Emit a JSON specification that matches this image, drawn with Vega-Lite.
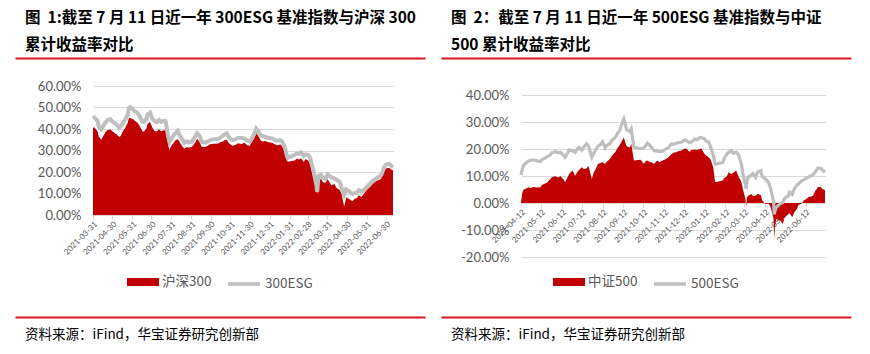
{
  "$schema": "https://vega.github.io/schema/vega-lite/v6.json",
  "background": "white",
  "padding": {"left": 12, "top": 10, "right": 0, "bottom": 0},
  "spacing": 10,
  "resolve": {"scale": {"fill": "independent", "stroke": "independent"}, "legend": {"fill": "independent", "stroke": "independent"}},
  "config": {
    "view": {"stroke": null},
    "font": "Noto Sans CJK SC",
    "legend": {"layout": {"top": {"anchor": "middle", "direction": "horizontal", "margin": 14}}}
  },
  "hconcat": [
    {
      "concat": [
        {
          "width": 410, "height": 13,
          "title": {"text": ["图\u00a0\u00a01:截至 7 月 11 日近一年 300ESG 基准指数与沪深 300", "累计收益率对比"], "anchor": "start", "frame": "group", "dx": 10, "offset": 5, "fontSize": 15.5, "fontWeight": "bold", "lineHeight": 27, "font": "Noto Sans CJK SC", "color": "#000000"},
          "data": {"values": [{"v": 0}]},
          "mark": {"type": "point", "opacity": 0},
          "encoding": {"x": {"field": "v", "type": "quantitative", "scale": {"domain": [0, 1]}, "axis": {"orient": "top", "domainColor": "#d7191f", "domainWidth": 2, "labels": false, "ticks": false, "grid": false, "title": null}}}
        },
        {
          "width": 410, "height": 129,
          "data": {"values": [
            {"d": "2021-03-31", "hs": 40.5, "esg": 44.9},
            {"d": "2021-04-02", "hs": 40.8, "esg": 45.4},
            {"d": "2021-04-07", "hs": 39.0, "esg": 43.8},
            {"d": "2021-04-09", "hs": 36.5, "esg": 41.0},
            {"d": "2021-04-13", "hs": 35.0, "esg": 39.8},
            {"d": "2021-04-16", "hs": 36.8, "esg": 41.5},
            {"d": "2021-04-20", "hs": 38.8, "esg": 43.2},
            {"d": "2021-04-23", "hs": 39.5, "esg": 44.2},
            {"d": "2021-04-27", "hs": 39.8, "esg": 44.6},
            {"d": "2021-04-30", "hs": 39.0, "esg": 43.5},
            {"d": "2021-05-07", "hs": 37.5, "esg": 42.0},
            {"d": "2021-05-11", "hs": 36.3, "esg": 40.6},
            {"d": "2021-05-13", "hs": 36.8, "esg": 41.2},
            {"d": "2021-05-17", "hs": 39.2, "esg": 43.0},
            {"d": "2021-05-20", "hs": 40.5, "esg": 44.3},
            {"d": "2021-05-24", "hs": 42.8, "esg": 46.5},
            {"d": "2021-05-26", "hs": 45.2, "esg": 49.8},
            {"d": "2021-05-28", "hs": 45.0, "esg": 50.2},
            {"d": "2021-06-01", "hs": 44.6, "esg": 49.2},
            {"d": "2021-06-04", "hs": 43.8, "esg": 48.3},
            {"d": "2021-06-08", "hs": 43.0, "esg": 47.6},
            {"d": "2021-06-11", "hs": 41.8, "esg": 46.3},
            {"d": "2021-06-16", "hs": 39.0, "esg": 43.4},
            {"d": "2021-06-18", "hs": 38.7, "esg": 43.1},
            {"d": "2021-06-22", "hs": 40.2, "esg": 44.6},
            {"d": "2021-06-24", "hs": 42.5, "esg": 46.8},
            {"d": "2021-06-28", "hs": 43.3, "esg": 47.6},
            {"d": "2021-07-01", "hs": 40.8, "esg": 45.0},
            {"d": "2021-07-05", "hs": 39.0, "esg": 43.6},
            {"d": "2021-07-08", "hs": 38.8, "esg": 43.1},
            {"d": "2021-07-12", "hs": 39.9, "esg": 44.2},
            {"d": "2021-07-15", "hs": 39.0, "esg": 43.3},
            {"d": "2021-07-19", "hs": 39.4, "esg": 43.8},
            {"d": "2021-07-22", "hs": 39.5, "esg": 43.6},
            {"d": "2021-07-26", "hs": 33.0, "esg": 36.5},
            {"d": "2021-07-28", "hs": 30.2, "esg": 34.0},
            {"d": "2021-07-30", "hs": 31.8, "esg": 35.2},
            {"d": "2021-08-03", "hs": 33.4, "esg": 36.8},
            {"d": "2021-08-06", "hs": 34.6, "esg": 38.0},
            {"d": "2021-08-10", "hs": 35.4, "esg": 39.2},
            {"d": "2021-08-13", "hs": 33.8, "esg": 37.0},
            {"d": "2021-08-17", "hs": 32.0, "esg": 35.2},
            {"d": "2021-08-20", "hs": 30.8, "esg": 33.6},
            {"d": "2021-08-24", "hs": 31.6, "esg": 34.2},
            {"d": "2021-08-27", "hs": 31.3, "esg": 33.8},
            {"d": "2021-09-01", "hs": 31.8, "esg": 34.2},
            {"d": "2021-09-06", "hs": 33.6, "esg": 36.4},
            {"d": "2021-09-09", "hs": 35.5, "esg": 38.0},
            {"d": "2021-09-13", "hs": 34.0, "esg": 36.8},
            {"d": "2021-09-16", "hs": 31.8, "esg": 34.0},
            {"d": "2021-09-22", "hs": 31.6, "esg": 33.6},
            {"d": "2021-09-27", "hs": 32.4, "esg": 34.4},
            {"d": "2021-09-30", "hs": 33.0, "esg": 35.0},
            {"d": "2021-10-12", "hs": 33.2, "esg": 35.4},
            {"d": "2021-10-15", "hs": 33.8, "esg": 36.0},
            {"d": "2021-10-19", "hs": 34.2, "esg": 36.8},
            {"d": "2021-10-22", "hs": 34.8, "esg": 37.5},
            {"d": "2021-10-25", "hs": 35.0, "esg": 38.0},
            {"d": "2021-10-28", "hs": 33.6, "esg": 36.4},
            {"d": "2021-11-01", "hs": 32.6, "esg": 35.2},
            {"d": "2021-11-04", "hs": 32.2, "esg": 34.8},
            {"d": "2021-11-09", "hs": 32.8, "esg": 35.4},
            {"d": "2021-11-12", "hs": 33.4, "esg": 35.8},
            {"d": "2021-11-17", "hs": 33.0, "esg": 35.8},
            {"d": "2021-11-22", "hs": 33.6, "esg": 35.6},
            {"d": "2021-11-26", "hs": 32.4, "esg": 34.6},
            {"d": "2021-11-30", "hs": 32.2, "esg": 34.2},
            {"d": "2021-12-03", "hs": 33.8, "esg": 35.6},
            {"d": "2021-12-07", "hs": 35.6, "esg": 37.8},
            {"d": "2021-12-10", "hs": 38.2, "esg": 40.2},
            {"d": "2021-12-14", "hs": 36.4, "esg": 38.6},
            {"d": "2021-12-17", "hs": 34.6, "esg": 37.0},
            {"d": "2021-12-21", "hs": 34.2, "esg": 36.6},
            {"d": "2021-12-24", "hs": 34.4, "esg": 36.4},
            {"d": "2021-12-29", "hs": 33.8, "esg": 35.8},
            {"d": "2022-01-04", "hs": 33.6, "esg": 35.6},
            {"d": "2022-01-07", "hs": 33.0, "esg": 35.0},
            {"d": "2022-01-12", "hs": 32.4, "esg": 34.5},
            {"d": "2022-01-17", "hs": 32.8, "esg": 34.8},
            {"d": "2022-01-20", "hs": 31.6, "esg": 34.0},
            {"d": "2022-01-24", "hs": 29.4, "esg": 31.0},
            {"d": "2022-01-27", "hs": 25.6, "esg": 27.4},
            {"d": "2022-01-28", "hs": 24.8, "esg": 26.6},
            {"d": "2022-02-08", "hs": 25.4, "esg": 28.0},
            {"d": "2022-02-11", "hs": 26.2, "esg": 28.6},
            {"d": "2022-02-15", "hs": 25.8, "esg": 28.4},
            {"d": "2022-02-18", "hs": 26.4, "esg": 29.2},
            {"d": "2022-02-22", "hs": 24.6, "esg": 27.4},
            {"d": "2022-02-25", "hs": 26.0, "esg": 28.2},
            {"d": "2022-03-01", "hs": 25.4, "esg": 28.0},
            {"d": "2022-03-04", "hs": 23.6, "esg": 26.6},
            {"d": "2022-03-08", "hs": 18.6, "esg": 22.0},
            {"d": "2022-03-10", "hs": 16.0, "esg": 19.4},
            {"d": "2022-03-14", "hs": 11.0, "esg": 13.6},
            {"d": "2022-03-15", "hs": 9.6, "esg": 10.8},
            {"d": "2022-03-17", "hs": 16.4, "esg": 18.2},
            {"d": "2022-03-21", "hs": 16.8, "esg": 18.6},
            {"d": "2022-03-24", "hs": 15.2, "esg": 17.2},
            {"d": "2022-03-28", "hs": 15.0, "esg": 16.8},
            {"d": "2022-03-31", "hs": 16.8, "esg": 18.8},
            {"d": "2022-04-06", "hs": 13.8, "esg": 17.6},
            {"d": "2022-04-11", "hs": 14.4, "esg": 17.0},
            {"d": "2022-04-14", "hs": 12.6, "esg": 16.4},
            {"d": "2022-04-19", "hs": 11.8, "esg": 15.4},
            {"d": "2022-04-22", "hs": 9.8, "esg": 12.6},
            {"d": "2022-04-25", "hs": 5.4, "esg": 10.2},
            {"d": "2022-04-26", "hs": 3.8, "esg": 9.4},
            {"d": "2022-04-28", "hs": 6.6, "esg": 10.6},
            {"d": "2022-04-29", "hs": 8.3, "esg": 12.0},
            {"d": "2022-05-05", "hs": 7.2, "esg": 10.8},
            {"d": "2022-05-09", "hs": 6.4, "esg": 9.8},
            {"d": "2022-05-12", "hs": 7.4, "esg": 10.2},
            {"d": "2022-05-16", "hs": 8.0, "esg": 10.6},
            {"d": "2022-05-19", "hs": 9.2, "esg": 11.6},
            {"d": "2022-05-23", "hs": 8.4, "esg": 10.8},
            {"d": "2022-05-26", "hs": 9.6, "esg": 11.4},
            {"d": "2022-05-31", "hs": 11.6, "esg": 13.0},
            {"d": "2022-06-06", "hs": 13.2, "esg": 14.8},
            {"d": "2022-06-10", "hs": 14.6, "esg": 16.0},
            {"d": "2022-06-15", "hs": 15.8, "esg": 17.0},
            {"d": "2022-06-20", "hs": 16.4, "esg": 18.0},
            {"d": "2022-06-23", "hs": 17.2, "esg": 18.8},
            {"d": "2022-06-27", "hs": 20.2, "esg": 22.0},
            {"d": "2022-06-30", "hs": 21.6, "esg": 23.4},
            {"d": "2022-07-05", "hs": 22.0, "esg": 23.8},
            {"d": "2022-07-08", "hs": 21.2, "esg": 23.0},
            {"d": "2022-07-11", "hs": 20.8, "esg": 22.3}
          ]},
          "encoding": {
            "x": {
              "field": "d", "type": "temporal",
              "scale": {"type": "utc", "nice": false, "range": [78, 378], "domain": [{"year": 2021, "month": 3, "date": 31, "utc": true}, {"year": 2022, "month": 7, "date": 11, "utc": true}]},
              "axis": {
                "values": [
                  {"year": 2021, "month": 3, "date": 31, "utc": true},
                  {"year": 2021, "month": 4, "date": 30, "utc": true},
                  {"year": 2021, "month": 5, "date": 31, "utc": true},
                  {"year": 2021, "month": 6, "date": 30, "utc": true},
                  {"year": 2021, "month": 7, "date": 31, "utc": true},
                  {"year": 2021, "month": 8, "date": 31, "utc": true},
                  {"year": 2021, "month": 9, "date": 30, "utc": true},
                  {"year": 2021, "month": 10, "date": 31, "utc": true},
                  {"year": 2021, "month": 11, "date": 30, "utc": true},
                  {"year": 2021, "month": 12, "date": 31, "utc": true},
                  {"year": 2022, "month": 1, "date": 31, "utc": true},
                  {"year": 2022, "month": 2, "date": 28, "utc": true},
                  {"year": 2022, "month": 3, "date": 31, "utc": true},
                  {"year": 2022, "month": 4, "date": 30, "utc": true},
                  {"year": 2022, "month": 5, "date": 31, "utc": true},
                  {"year": 2022, "month": 6, "date": 30, "utc": true}
                ],
                "labelExpr": "utcFormat(datum.value, '%Y-%m-%d')",
                "labelAngle": -45, "labelFontSize": 8, "labelFont": "Lato", "labelColor": "#595959",
                "labelOverlap": false, "labelFlush": false, "labelPadding": 1,
                "domainColor": "#d9d9d9", "tickColor": "#d9d9d9", "tickSize": 4, "grid": false, "title": null
              }
            }
          },
          "layer": [
            {
              "mark": {"type": "area", "color": "#c00000"},
              "encoding": {"y": {"field": "hs", "type": "quantitative", "scale": {"domain": [0, 60], "nice": false},
                "axis": {"values": [0, 10, 20, 30, 40, 50, 60], "tickCount": 7, "labelExpr": "format(datum.value, '.2f') + '%'", "labelOverlap": false, "offset": -78, "domain": false, "ticks": false, "gridColor": "#d9d9d9", "labelFontSize": 13, "labelFont": "Lato", "labelColor": "#595959", "labelPadding": 12, "title": null}}}
            },
            {
              "mark": {"type": "line", "color": "#bfbfbf", "strokeWidth": 4},
              "encoding": {"y": {"field": "esg", "type": "quantitative", "scale": {"domain": [0, 60], "nice": false},
                "axis": {"values": [0, 10, 20, 30, 40, 50, 60], "tickCount": 7, "labelExpr": "format(datum.value, '.2f') + '%'", "labelOverlap": false, "offset": -78, "domain": false, "ticks": false, "gridColor": "#d9d9d9", "labelFontSize": 13, "labelFont": "Lato", "labelColor": "#595959", "labelPadding": 12, "title": null}}}
            }
          ]
        },
        {
          "width": 410, "height": 1,
          "title": {"text": "资料来源：iFind，华宝证券研究创新部", "orient": "bottom", "anchor": "start", "frame": "group", "dx": 10, "offset": 8, "fontSize": 13.5, "fontWeight": "normal", "font": "Noto Sans CJK SC", "color": "#000000"},
          "data": {"values": [{"s": "沪深300", "v": 0}, {"s": "300ESG", "v": 1}]},
          "encoding": {"x": {"field": "v", "type": "quantitative", "scale": {"domain": [0, 1]}, "axis": {"orient": "top", "domainColor": "#d7191f", "domainWidth": 2, "labels": false, "ticks": false, "grid": false, "title": null}}},
          "layer": [
            {
              "transform": [{"filter": "datum.v == 0"}],
              "mark": {"type": "point", "opacity": 0, "filled": true},
              "encoding": {"fill": {"field": "s", "type": "nominal", "scale": {"range": ["#c00000"]},
                "legend": {"orient": "top", "title": null, "symbolType": "M-1,-0.25H1V0.25H-1Z", "symbolSize": 1024, "symbolStrokeWidth": 0, "symbolOpacity": 1, "labelFontSize": 13.5, "labelFont": "Noto Sans CJK SC", "labelColor": "#595959", "labelOffset": 3, "offset": 26, "padding": 0}}}
            },
            {
              "transform": [{"filter": "datum.v == 1"}],
              "mark": {"type": "point", "opacity": 0},
              "encoding": {"stroke": {"field": "s", "type": "nominal", "scale": {"range": ["#bfbfbf"]},
                "legend": {"orient": "top", "title": null, "symbolType": "M-1,0H1", "symbolSize": 1024, "symbolStrokeWidth": 3.5, "symbolOpacity": 1, "symbolFillColor": "transparent", "labelFontSize": 13.5, "labelFont": "Noto Sans CJK SC", "labelColor": "#595959", "labelOffset": 3, "offset": 26, "padding": 0}}}
            }
          ]
        }
      ],
      "columns": 1,
      "align": "none",
      "spacing": 9,
      "resolve": {"scale": {"fill": "independent", "stroke": "independent"}, "legend": {"fill": "independent", "stroke": "independent"}}
    },
    {
      "concat": [
        {
          "width": 410, "height": 29,
          "title": {"text": ["图\u00a0\u00a02：截至 7 月 11 日近一年 500ESG 基准指数与中证", "500 累计收益率对比"], "anchor": "start", "frame": "group", "dx": 10, "offset": 5, "fontSize": 15.5, "fontWeight": "bold", "lineHeight": 27, "font": "Noto Sans CJK SC", "color": "#000000"},
          "data": {"values": [{"v": 0}]},
          "mark": {"type": "point", "opacity": 0},
          "encoding": {"x": {"field": "v", "type": "quantitative", "scale": {"domain": [0, 1]}, "axis": {"orient": "top", "domainColor": "#d7191f", "domainWidth": 2, "labels": false, "ticks": false, "grid": false, "title": null}}}
        },
        {
          "width": 410, "height": 162,
          "data": {"values": [
            {"d": "2021-04-12", "zz": 0.3, "esg": 10.4},
            {"d": "2021-04-14", "zz": 3.8, "esg": 12.6},
            {"d": "2021-04-16", "zz": 5.0, "esg": 14.0},
            {"d": "2021-04-20", "zz": 5.4, "esg": 14.9},
            {"d": "2021-04-23", "zz": 5.8, "esg": 15.5},
            {"d": "2021-04-27", "zz": 5.6, "esg": 15.8},
            {"d": "2021-04-30", "zz": 5.9, "esg": 16.0},
            {"d": "2021-05-07", "zz": 5.7, "esg": 15.6},
            {"d": "2021-05-11", "zz": 5.8, "esg": 15.3},
            {"d": "2021-05-14", "zz": 6.8, "esg": 16.2},
            {"d": "2021-05-18", "zz": 7.2, "esg": 16.6},
            {"d": "2021-05-21", "zz": 7.6, "esg": 17.2},
            {"d": "2021-05-25", "zz": 8.6, "esg": 17.6},
            {"d": "2021-05-28", "zz": 9.5, "esg": 18.6},
            {"d": "2021-06-02", "zz": 9.9, "esg": 19.0},
            {"d": "2021-06-07", "zz": 9.4, "esg": 18.6},
            {"d": "2021-06-10", "zz": 10.0, "esg": 18.8},
            {"d": "2021-06-15", "zz": 8.6, "esg": 17.6},
            {"d": "2021-06-17", "zz": 7.8, "esg": 16.9},
            {"d": "2021-06-21", "zz": 9.6, "esg": 18.6},
            {"d": "2021-06-23", "zz": 10.7, "esg": 19.6},
            {"d": "2021-06-28", "zz": 12.0, "esg": 19.4},
            {"d": "2021-07-02", "zz": 10.1, "esg": 18.8},
            {"d": "2021-07-06", "zz": 11.8, "esg": 20.2},
            {"d": "2021-07-08", "zz": 12.2, "esg": 20.6},
            {"d": "2021-07-12", "zz": 13.2, "esg": 19.6},
            {"d": "2021-07-15", "zz": 12.6, "esg": 20.8},
            {"d": "2021-07-19", "zz": 12.8, "esg": 21.9},
            {"d": "2021-07-22", "zz": 13.8, "esg": 21.2},
            {"d": "2021-07-27", "zz": 8.9, "esg": 16.9},
            {"d": "2021-07-30", "zz": 11.4, "esg": 18.4},
            {"d": "2021-08-02", "zz": 12.6, "esg": 19.8},
            {"d": "2021-08-05", "zz": 14.4, "esg": 21.0},
            {"d": "2021-08-09", "zz": 14.8, "esg": 21.6},
            {"d": "2021-08-12", "zz": 15.1, "esg": 22.7},
            {"d": "2021-08-16", "zz": 14.4, "esg": 20.4},
            {"d": "2021-08-18", "zz": 15.2, "esg": 21.2},
            {"d": "2021-08-23", "zz": 16.3, "esg": 22.0},
            {"d": "2021-08-26", "zz": 17.5, "esg": 23.2},
            {"d": "2021-08-31", "zz": 18.8, "esg": 24.2},
            {"d": "2021-09-03", "zz": 20.2, "esg": 25.6},
            {"d": "2021-09-07", "zz": 21.6, "esg": 27.0},
            {"d": "2021-09-09", "zz": 22.5, "esg": 28.6},
            {"d": "2021-09-13", "zz": 24.3, "esg": 31.1},
            {"d": "2021-09-15", "zz": 22.5, "esg": 29.3},
            {"d": "2021-09-17", "zz": 21.0, "esg": 27.2},
            {"d": "2021-09-22", "zz": 20.6, "esg": 26.4},
            {"d": "2021-09-24", "zz": 21.9, "esg": 27.4},
            {"d": "2021-09-28", "zz": 15.7, "esg": 20.6},
            {"d": "2021-10-08", "zz": 16.0, "esg": 20.2},
            {"d": "2021-10-13", "zz": 14.4, "esg": 20.4},
            {"d": "2021-10-15", "zz": 15.4, "esg": 21.0},
            {"d": "2021-10-18", "zz": 15.7, "esg": 22.2},
            {"d": "2021-10-21", "zz": 15.3, "esg": 21.6},
            {"d": "2021-10-25", "zz": 15.0, "esg": 20.4},
            {"d": "2021-10-28", "zz": 14.4, "esg": 19.4},
            {"d": "2021-11-02", "zz": 15.7, "esg": 19.2},
            {"d": "2021-11-05", "zz": 15.1, "esg": 19.0},
            {"d": "2021-11-10", "zz": 15.7, "esg": 19.2},
            {"d": "2021-11-15", "zz": 16.3, "esg": 20.0},
            {"d": "2021-11-19", "zz": 17.0, "esg": 20.6},
            {"d": "2021-11-23", "zz": 18.1, "esg": 21.9},
            {"d": "2021-11-26", "zz": 18.6, "esg": 21.8},
            {"d": "2021-11-30", "zz": 18.8, "esg": 22.0},
            {"d": "2021-12-03", "zz": 19.2, "esg": 22.4},
            {"d": "2021-12-08", "zz": 19.4, "esg": 22.5},
            {"d": "2021-12-13", "zz": 20.2, "esg": 23.3},
            {"d": "2021-12-16", "zz": 20.0, "esg": 23.1},
            {"d": "2021-12-20", "zz": 19.0, "esg": 22.4},
            {"d": "2021-12-23", "zz": 19.6, "esg": 22.6},
            {"d": "2021-12-28", "zz": 19.8, "esg": 23.7},
            {"d": "2021-12-31", "zz": 19.6, "esg": 23.4},
            {"d": "2022-01-05", "zz": 20.0, "esg": 24.3},
            {"d": "2022-01-07", "zz": 20.2, "esg": 24.2},
            {"d": "2022-01-12", "zz": 18.1, "esg": 23.7},
            {"d": "2022-01-14", "zz": 17.6, "esg": 23.0},
            {"d": "2022-01-18", "zz": 16.9, "esg": 22.5},
            {"d": "2022-01-21", "zz": 16.0, "esg": 20.6},
            {"d": "2022-01-25", "zz": 13.0, "esg": 17.5},
            {"d": "2022-01-27", "zz": 8.6, "esg": 15.0},
            {"d": "2022-01-28", "zz": 7.7, "esg": 14.4},
            {"d": "2022-02-08", "zz": 8.3, "esg": 15.0},
            {"d": "2022-02-10", "zz": 9.2, "esg": 16.4},
            {"d": "2022-02-14", "zz": 9.9, "esg": 18.1},
            {"d": "2022-02-17", "zz": 11.4, "esg": 18.8},
            {"d": "2022-02-21", "zz": 10.7, "esg": 19.4},
            {"d": "2022-02-24", "zz": 11.2, "esg": 18.4},
            {"d": "2022-02-28", "zz": 12.0, "esg": 18.8},
            {"d": "2022-03-03", "zz": 10.1, "esg": 18.1},
            {"d": "2022-03-08", "zz": 7.7, "esg": 14.4},
            {"d": "2022-03-10", "zz": 5.2, "esg": 11.0},
            {"d": "2022-03-14", "zz": 1.5, "esg": 6.5},
            {"d": "2022-03-15", "zz": -1.8, "esg": 5.2},
            {"d": "2022-03-16", "zz": 2.0, "esg": 7.7},
            {"d": "2022-03-18", "zz": 2.7, "esg": 9.6},
            {"d": "2022-03-23", "zz": 3.3, "esg": 10.4},
            {"d": "2022-03-25", "zz": 2.6, "esg": 10.9},
            {"d": "2022-03-29", "zz": 2.7, "esg": 9.5},
            {"d": "2022-04-01", "zz": 3.3, "esg": 11.4},
            {"d": "2022-04-06", "zz": 3.0, "esg": 12.0},
            {"d": "2022-04-08", "zz": 0.9, "esg": 9.8},
            {"d": "2022-04-13", "zz": -0.4, "esg": 8.9},
            {"d": "2022-04-18", "zz": -0.3, "esg": 7.4},
            {"d": "2022-04-21", "zz": -1.8, "esg": 5.0},
            {"d": "2022-04-25", "zz": -6.0, "esg": 0.5},
            {"d": "2022-04-26", "zz": -13.5, "esg": -4.2},
            {"d": "2022-04-27", "zz": -9.2, "esg": -3.0},
            {"d": "2022-04-29", "zz": -5.9, "esg": -1.6},
            {"d": "2022-05-05", "zz": -6.5, "esg": -0.3},
            {"d": "2022-05-09", "zz": -7.8, "esg": 0.2},
            {"d": "2022-05-11", "zz": -5.6, "esg": 1.5},
            {"d": "2022-05-13", "zz": -5.0, "esg": 2.0},
            {"d": "2022-05-17", "zz": -4.2, "esg": 2.6},
            {"d": "2022-05-19", "zz": -3.8, "esg": 4.0},
            {"d": "2022-05-23", "zz": -5.3, "esg": 3.2},
            {"d": "2022-05-26", "zz": -3.4, "esg": 5.2},
            {"d": "2022-05-30", "zz": -2.2, "esg": 6.6},
            {"d": "2022-06-01", "zz": -0.8, "esg": 7.0},
            {"d": "2022-06-06", "zz": -0.2, "esg": 8.1},
            {"d": "2022-06-09", "zz": 0.9, "esg": 8.6},
            {"d": "2022-06-13", "zz": 1.5, "esg": 9.1},
            {"d": "2022-06-16", "zz": 2.1, "esg": 9.6},
            {"d": "2022-06-20", "zz": 2.4, "esg": 10.1},
            {"d": "2022-06-23", "zz": 2.7, "esg": 10.5},
            {"d": "2022-06-27", "zz": 4.8, "esg": 11.6},
            {"d": "2022-06-29", "zz": 5.2, "esg": 12.6},
            {"d": "2022-07-01", "zz": 6.0, "esg": 13.0},
            {"d": "2022-07-05", "zz": 5.8, "esg": 12.8},
            {"d": "2022-07-07", "zz": 5.2, "esg": 12.2},
            {"d": "2022-07-11", "zz": 4.8, "esg": 11.4}
          ]},
          "encoding": {
            "x": {
              "field": "d", "type": "temporal",
              "scale": {"type": "utc", "nice": false, "range": [80, 384], "domain": [{"year": 2021, "month": 4, "date": 12, "utc": true}, {"year": 2022, "month": 7, "date": 11, "utc": true}]},
              "axis": {
                "values": [
                  {"year": 2021, "month": 4, "date": 12, "utc": true},
                  {"year": 2021, "month": 5, "date": 12, "utc": true},
                  {"year": 2021, "month": 6, "date": 12, "utc": true},
                  {"year": 2021, "month": 7, "date": 12, "utc": true},
                  {"year": 2021, "month": 8, "date": 12, "utc": true},
                  {"year": 2021, "month": 9, "date": 12, "utc": true},
                  {"year": 2021, "month": 10, "date": 12, "utc": true},
                  {"year": 2021, "month": 11, "date": 12, "utc": true},
                  {"year": 2021, "month": 12, "date": 12, "utc": true},
                  {"year": 2022, "month": 1, "date": 12, "utc": true},
                  {"year": 2022, "month": 2, "date": 12, "utc": true},
                  {"year": 2022, "month": 3, "date": 12, "utc": true},
                  {"year": 2022, "month": 4, "date": 12, "utc": true},
                  {"year": 2022, "month": 5, "date": 12, "utc": true},
                  {"year": 2022, "month": 6, "date": 12, "utc": true}
                ],
                "labelExpr": "utcFormat(datum.value, '%Y-%m-%d')",
                "offset": -54,
                "labelAngle": -45, "labelFontSize": 8, "labelFont": "Lato", "labelColor": "#595959",
                "labelOverlap": false, "labelFlush": false, "labelPadding": 1,
                "domainColor": "#d9d9d9", "tickColor": "#d9d9d9", "tickSize": 4, "grid": false, "title": null
              }
            }
          },
          "layer": [
            {
              "mark": {"type": "area", "color": "#c00000"},
              "encoding": {"y": {"field": "zz", "type": "quantitative", "scale": {"domain": [-20, 40], "nice": false},
                "axis": {"values": [-20, -10, 0, 10, 20, 30, 40], "tickCount": 7, "labelExpr": "(datum.value < 0 ? '-' : '') + format(abs(datum.value), '.2f') + '%'", "labelOverlap": false, "offset": -80, "domain": false, "ticks": false, "gridColor": "#d9d9d9", "labelFontSize": 13, "labelFont": "Lato", "labelColor": "#595959", "labelPadding": 12, "title": null}}}
            },
            {
              "mark": {"type": "line", "color": "#bfbfbf", "strokeWidth": 3.2},
              "encoding": {"y": {"field": "esg", "type": "quantitative", "scale": {"domain": [-20, 40], "nice": false},
                "axis": {"values": [-20, -10, 0, 10, 20, 30, 40], "tickCount": 7, "labelExpr": "(datum.value < 0 ? '-' : '') + format(abs(datum.value), '.2f') + '%'", "labelOverlap": false, "offset": -80, "domain": false, "ticks": false, "gridColor": "#d9d9d9", "labelFontSize": 13, "labelFont": "Lato", "labelColor": "#595959", "labelPadding": 12, "title": null}}}
            }
          ]
        },
        {
          "width": 410, "height": 1,
          "title": {"text": "资料来源：iFind，华宝证券研究创新部", "orient": "bottom", "anchor": "start", "frame": "group", "dx": 10, "offset": 8, "fontSize": 13.5, "fontWeight": "normal", "font": "Noto Sans CJK SC", "color": "#000000"},
          "data": {"values": [{"s": "中证500", "v": 0}, {"s": "500ESG", "v": 1}]},
          "encoding": {"x": {"field": "v", "type": "quantitative", "scale": {"domain": [0, 1]}, "axis": {"orient": "top", "domainColor": "#d7191f", "domainWidth": 2, "labels": false, "ticks": false, "grid": false, "title": null}}},
          "layer": [
            {
              "transform": [{"filter": "datum.v == 0"}],
              "mark": {"type": "point", "opacity": 0, "filled": true},
              "encoding": {"fill": {"field": "s", "type": "nominal", "scale": {"range": ["#c00000"]},
                "legend": {"orient": "top", "title": null, "symbolType": "M-1,-0.25H1V0.25H-1Z", "symbolSize": 1024, "symbolStrokeWidth": 0, "symbolOpacity": 1, "labelFontSize": 13.5, "labelFont": "Noto Sans CJK SC", "labelColor": "#595959", "labelOffset": 3, "offset": 26, "padding": 0}}}
            },
            {
              "transform": [{"filter": "datum.v == 1"}],
              "mark": {"type": "point", "opacity": 0},
              "encoding": {"stroke": {"field": "s", "type": "nominal", "scale": {"range": ["#bfbfbf"]},
                "legend": {"orient": "top", "title": null, "symbolType": "M-1,0H1", "symbolSize": 1024, "symbolStrokeWidth": 3.5, "symbolOpacity": 1, "symbolFillColor": "transparent", "labelFontSize": 13.5, "labelFont": "Noto Sans CJK SC", "labelColor": "#595959", "labelOffset": 3, "offset": 26, "padding": 0}}}
            }
          ]
        }
      ],
      "columns": 1,
      "align": "none",
      "spacing": 2,
      "resolve": {"scale": {"fill": "independent", "stroke": "independent"}, "legend": {"fill": "independent", "stroke": "independent"}}
    }
  ]
}
